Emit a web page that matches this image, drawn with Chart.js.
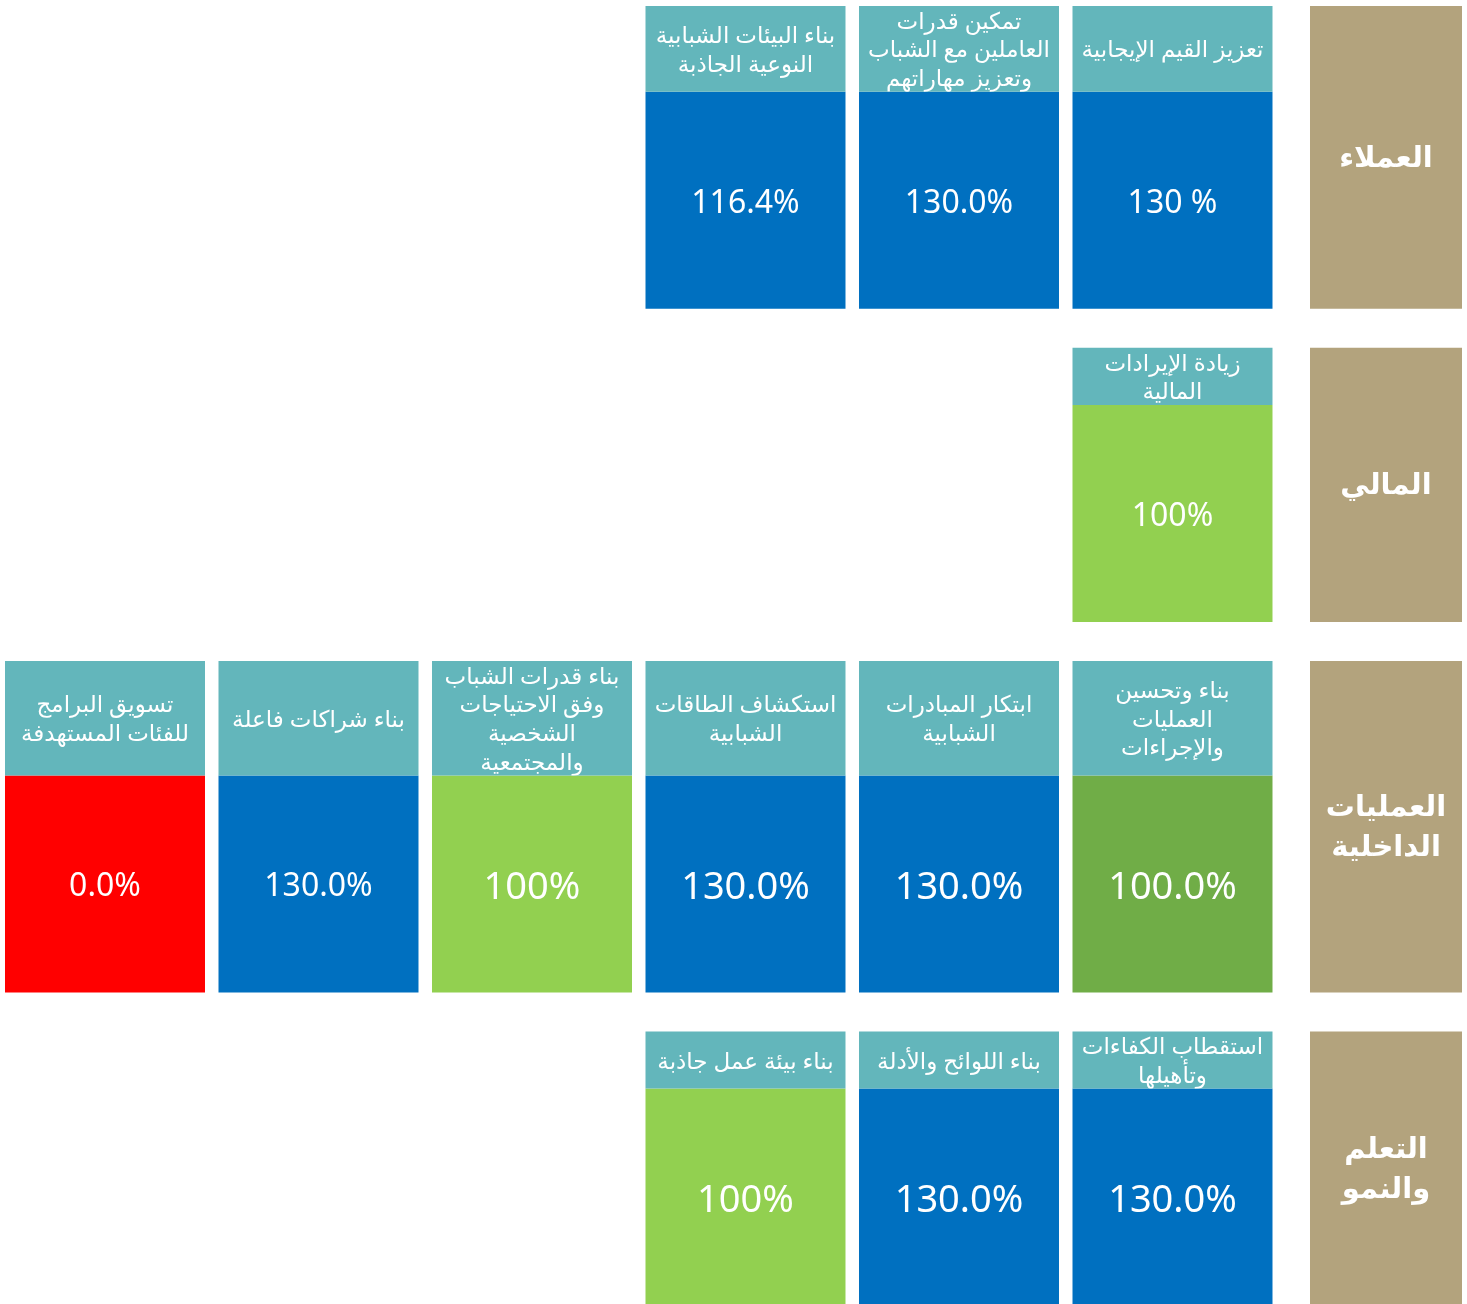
<!DOCTYPE html>
<html lang="ar">
<head>
<meta charset="utf-8">
<title>خريطة الأهداف الاستراتيجية</title>
<script src="https://cdn.jsdelivr.net/npm/chart.js@4.4.1/dist/chart.umd.min.js"></script>
<style>
  html, body { margin: 0; padding: 0; background: #ffffff; }
  #wrap { position: relative; width: 1467px; height: 1304px; }
</style>
</head>
<body>
<div id="wrap"><canvas id="mapa"></canvas></div>
<script>
// perspectives, top to bottom (right column)
const perspectives = [["العملاء"], ["المالي"], ["العمليات", "الداخلية"], ["التعلم", "والنمو"]];

// goals of each perspective, read right to left
const customerGoals = [["تعزيز القيم الإيجابية"], ["تمكين قدرات", "العاملين مع الشباب", "وتعزيز مهاراتهم"], ["بناء البيئات الشبابية", "النوعية الجاذبة"]];
const customerValues = [130, 130, 116.4];
const customerLabels = ["130 %", "130.0%", "116.4%"];

const financialGoals = [["زيادة الإيرادات", "المالية"]];
const financialValues = [100];
const financialLabels = ["100%"];

const internalGoals = [["بناء وتحسين", "العمليات", "والإجراءات"], ["ابتكار المبادرات", "الشبابية"], ["استكشاف الطاقات", "الشبابية"], ["بناء قدرات الشباب", "وفق الاحتياجات", "الشخصية", "والمجتمعية"], ["بناء شراكات فاعلة"], ["تسويق البرامج", "للفئات المستهدفة"]];
const internalValues = [100, 130, 130, 100, 130, 0];
const internalLabels = ["100.0%", "130.0%", "130.0%", "100%", "130.0%", "0.0%"];

const learningGoals = [["استقطاب الكفاءات", "وتأهيلها"], ["بناء اللوائح والأدلة"], ["بناء بيئة عمل جاذبة"]];
const learningValues = [130, 130, 100];
const learningLabels = ["130.0%", "130.0%", "100%"];

// ---- styles ----
const BLUE = "#0070c0", GREEN = "#92d050", DARK_GREEN = "#70ad47", RED = "#ff0000";
const TEAL = "#63b6bb", SAND = "#b3a37d";
const tileColors = [
  [BLUE, BLUE, BLUE],
  [GREEN],
  [DARK_GREEN, BLUE, BLUE, GREEN, BLUE, RED],
  [BLUE, BLUE, GREEN]
];
const SMALL = 32, LARGE = 38;
const valueSizes = [
  [SMALL, SMALL, SMALL],
  [SMALL],
  [LARGE, LARGE, LARGE, LARGE, SMALL, SMALL],
  [LARGE, LARGE, LARGE]
];
const FONT = "'Noto Sans', 'DejaVu Sans', sans-serif";

// ---- layout (in y-scale units) ----
const TOP = 6, LINE_H = 28.6, VALUE_H = 217, ROW_GAP = 39;

const rows = [
  { goals: customerGoals, values: customerValues, labels: customerLabels },
  { goals: financialGoals, values: financialValues, labels: financialLabels },
  { goals: internalGoals, values: internalValues, labels: internalLabels },
  { goals: learningGoals, values: learningValues, labels: learningLabels }
];

function buildBands() {
  let top = TOP;
  return rows.map(r => {
    const head = Math.max(...r.goals.map(g => g.length)) * LINE_H;
    const band = { top: top, mid: top + head, bottom: top + head + VALUE_H };
    top = band.bottom + ROW_GAP;
    return band;
  });
}

function buildDatasets() {
  const bands = buildBands();
  const sideData = [], headData = [], valueData = [];
  const headTexts = [], valueTexts = [], valueColors = [], valueFonts = [];

  rows.forEach((r, ri) => {
    const b = bands[ri];
    sideData.push({ x: 0, y: [b.top, b.bottom] });
    r.goals.forEach((g, gi) => {
      headData.push({ x: gi + 1, y: [b.top, b.mid] });
      headTexts.push(g);
      valueData.push({ x: gi + 1, y: [b.mid, b.bottom], v: r.values[gi] });
      valueTexts.push(r.labels[gi]);
      valueColors.push(tileColors[ri][gi]);
      valueFonts.push(valueSizes[ri][gi]);
    });
  });

  return [
    { label: "side", data: sideData, backgroundColor: SAND, barThickness: 152, texts: perspectives, kind: "side" },
    { label: "head", data: headData, backgroundColor: TEAL, barThickness: 200, texts: headTexts, kind: "head" },
    { label: "value", data: valueData, backgroundColor: valueColors, barThickness: 200, texts: valueTexts, sizes: valueFonts, kind: "value" }
  ];
}

const tileText = {
  id: "tileText",
  afterDatasetsDraw(chart) {
    const ctx = chart.ctx;
    chart.data.datasets.forEach((ds, di) => {
      const meta = chart.getDatasetMeta(di);
      meta.data.forEach((bar, i) => {
        const p = bar.getProps(["x", "y", "base", "width"], true);
        const left = p.x - p.width / 2;
        const top = Math.min(p.y, p.base);
        const h = Math.abs(p.base - p.y);
        const cy = top + h / 2;
        ctx.save();
        ctx.fillStyle = "#ffffff";
        ctx.textAlign = "center";
        ctx.textBaseline = "middle";
        if (ds.kind === "value") {
          ctx.direction = "ltr";
          ctx.font = ds.sizes[i] + "px " + FONT;
          ctx.fillText(ds.texts[i], p.x, cy + ds.sizes[i] * 0.1);
        } else if (ds.kind === "head") {
          ctx.beginPath();
          ctx.rect(left, top, p.width, h);
          ctx.clip();
          ctx.direction = "rtl";
          ctx.font = "23px " + FONT;
          const lines = ds.texts[i];
          const y0 = cy + 2 - (lines.length - 1) * LINE_H / 2;
          lines.forEach((t, li) => ctx.fillText(t, p.x, y0 + li * LINE_H));
        } else {
          ctx.direction = "rtl";
          ctx.font = "bold 29px " + FONT;
          const lines = ds.texts[i];
          const y0 = cy + 1 - (lines.length - 1) * 40 / 2;
          lines.forEach((t, li) => ctx.fillText(t, p.x, y0 + li * 40));
        }
        ctx.restore();
      });
    });
  }
};

function drawMap() {
  const ctx = document.getElementById("mapa").getContext("2d");
  new Chart(ctx, {
    type: "bar",
    data: { datasets: buildDatasets() },
    options: {
      responsive: true,
      maintainAspectRatio: false,
      animation: false,
      layout: { padding: 0 },
      datasets: { bar: { grouped: false, borderWidth: 0, inflateAmount: 0 } },
      scales: {
        x: { type: "linear", reverse: true, offset: false, min: -0.3794, max: 6.4918, display: false },
        y: { type: "linear", reverse: true, min: 0, max: 1304, display: false }
      },
      plugins: {
        legend: { display: false },
        tooltip: { enabled: false }
      }
    },
    plugins: [tileText]
  });
}

document.addEventListener("DOMContentLoaded", drawMap);
</script>
</body>
</html>
